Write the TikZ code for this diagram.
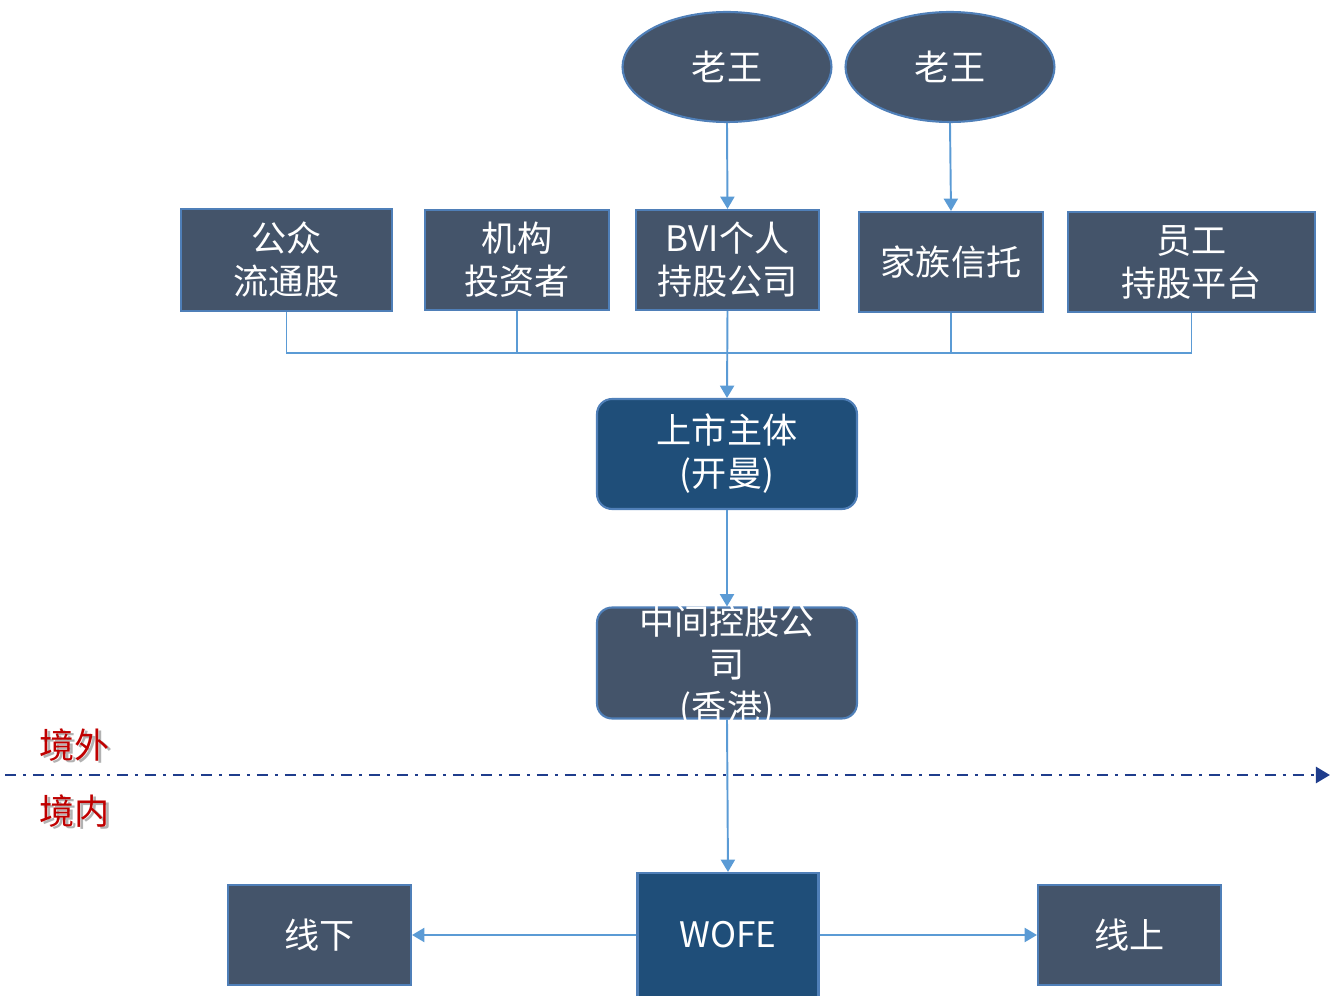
\documentclass[tikz,border=0pt]{standalone}
\usepackage{fontspec}
\setmainfont{Noto Sans CJK SC}
\usetikzlibrary{shapes.geometric,arrows.meta}
\definecolor{boxgray}{HTML}{44546A}
\definecolor{boxblue}{HTML}{1F4E79}
\definecolor{rim}{HTML}{4F7FB8}
\definecolor{link}{HTML}{5B9BD5}
\definecolor{navy}{HTML}{1F3D8C}
\definecolor{zonered}{HTML}{C00000}
\newcommand{\shadowed}[1]{\makebox[0pt][l]{\hspace{1.3pt}\raisebox{-1.3pt}{\color{black!30}#1}}#1}

\begin{document}
\begin{tikzpicture}[x=0.02cm,y=-0.02cm]
\tikzset{boite/.style={draw=rim, line width=1.2pt, fill=boxgray, text=white, align=center, inner sep=0pt, font=\fontsize{20}{24.5}\selectfont},
personne/.style={boite, ellipse, minimum width=4.18cm, minimum height=2.2cm},
fleche/.style={draw=link, line width=1.1pt, -{Triangle[length=7pt,width=8pt]}},
trait/.style={draw=link, line width=1.1pt},
zone/.style={text=zonered, font=\fontsize{20}{24}\selectfont, inner sep=0pt}}
\useasboundingbox (0,0) rectangle (1330,996);
\node[personne] (wang1) at (727,67) {老王};
\node[personne] (wang2) at (950,67) {老王};
\node[boite, minimum width=4.22cm, minimum height=2.04cm] (gz) at (286.5,260) {公众\\流通股};
\node[boite, minimum width=3.68cm, minimum height=2cm] (jg) at (517,260) {机构\\投资者};
\node[boite, minimum width=3.66cm, minimum height=2cm] (bvi) at (727.5,260) {BVI个人\\持股公司};
\node[boite, minimum width=3.68cm, minimum height=2cm] (jz) at (951,262) {家族信托};
\node[boite, minimum width=4.94cm, minimum height=2cm] (yg) at (1191.5,262) {员工\\持股平台};
\node[boite, fill=boxblue, rounded corners=0.3cm, minimum width=5.2cm, minimum height=2.2cm] (ss) at (727,454) {上市主体\\(开曼)};
\node[boite, rounded corners=0.3cm, minimum width=5.2cm, minimum height=2.22cm] (zj) at (727,663) {\smash{\raisebox{-0.24cm}{\parbox[c]{5cm}{\centering 中间控股公\\司\\(香港)}}}};
\node[boite, fill=boxblue, minimum width=3.62cm, minimum height=2.48cm] (wofe) at (728,935) {WOFE};
\node[boite, minimum width=3.66cm, minimum height=2cm] (xx) at (319.5,935) {线下};
\node[boite, minimum width=3.66cm, minimum height=2cm] (xs) at (1129.5,935) {线上};
\node[zone] (dehors) at (75,746) {\shadowed{境外}};
\node[zone] (dedans) at (75,812) {\shadowed{境内}};
% border line
\coordinate (g) at (5,775);
\coordinate (d) at (1330,775);
\draw[navy, line width=1.7pt, dash pattern=on 0.22cm off 0.14cm on 0.06cm off 0.14cm, -{Triangle[length=8pt,width=9pt]}] (g) -- (d);
% links
\coordinate (bus) at (727,353);
\draw[fleche] (wang1.south) -- (bvi.north);
\draw[fleche] (wang2.south) -- (jz.north);
\draw[trait] (gz.south) |- (bus);
\draw[trait] (jg.south) |- (bus);
\draw[trait] (jz.south) |- (bus);
\draw[trait] (yg.south) |- (bus);
\draw[fleche] (bvi.south) -- (ss.north);
\draw[fleche] (ss.south) -- (zj.north);
\draw[fleche] (zj.south) -- (wofe.north);
\draw[fleche] (wofe.west) -- (xx.east);
\draw[fleche] (wofe.east) -- (xs.west);
\end{tikzpicture}
\end{document}
